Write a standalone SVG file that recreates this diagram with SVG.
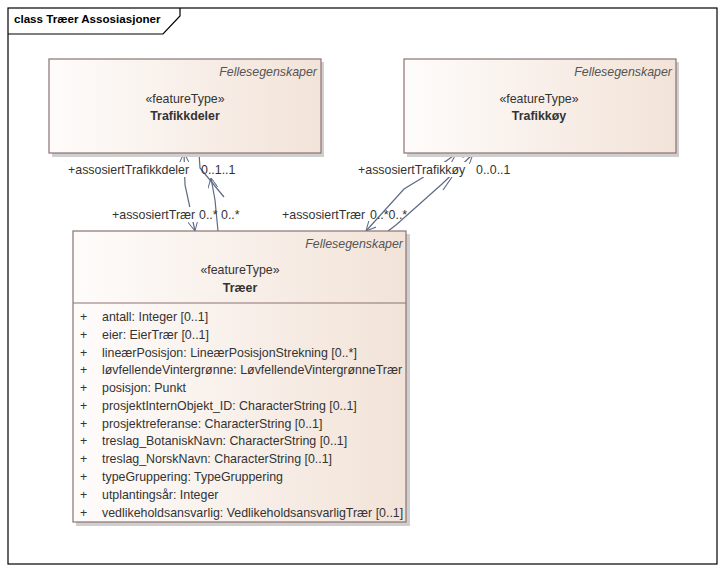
<svg xmlns="http://www.w3.org/2000/svg" width="726" height="572" viewBox="0 0 726 572">
<defs>
<linearGradient id="g" x1="0" y1="0" x2="1" y2="0">
<stop offset="0" stop-color="#fefcfb"/>
<stop offset="1" stop-color="#f2e3d8"/>
</linearGradient>
<marker id="arr" viewBox="0 0 10 10" refX="10" refY="5" markerWidth="10" markerHeight="10" markerUnits="userSpaceOnUse" orient="auto-start-reverse">
<path d="M0,0 L10,5 L0,10" fill="none" stroke="#5d6a85" stroke-width="1"/>
</marker>
<style>
text{font-family:"Liberation Sans",Arial,sans-serif;font-size:12.4px;fill:#333;}
.t{font-size:11.6px;font-weight:bold;fill:#000;}
.b{font-weight:bold;}
.i{font-style:italic;fill:#555;}
.m{text-anchor:middle;}
.e{text-anchor:end;}
.box{fill:url(#g);stroke:#8c7272;stroke-width:1.2;}
.sh{fill:#cfcfcf;}
.c{fill:none;stroke:#5d6a85;stroke-width:1.2;}
</style>
</defs>
<rect x="0" y="0" width="726" height="572" fill="#fff"/>
<g id="frame">
<rect x="8" y="8" width="709" height="556" fill="none" stroke="#000" stroke-width="1.2"/>
<path d="M8,34 H163 L180,16 V8" fill="none" stroke="#000" stroke-width="1.2"/>
<text x="14" y="23" class="t">class Træer Assosiasjoner</text>
</g>
<g id="connectors">
<polyline class="c" points="184,153 185,185 195,231" marker-start="url(#arr)" marker-end="url(#arr)"/>
<polyline class="c" points="199,153 200,168 224,197"/>
<polyline class="c" points="218,231 215,200 211,178" marker-end="url(#arr)"/>
<polyline class="c" points="366,231 404,189 422,178 456,154" marker-start="url(#arr)" marker-end="url(#arr)"/>
<polyline class="c" points="388,231 396,225 442,184 473,154" marker-end="url(#arr)"/>
<line class="c" x1="443" y1="190" x2="452" y2="177"/>
</g>
<g id="labels">
<rect x="66" y="162" width="126" height="15" fill="#fff"/>
<text x="68" y="174">+assosiertTrafikkdeler</text>
<text x="201" y="174">0..1..1</text>
<rect x="110" y="207" width="88" height="15" fill="#fff"/>
<text x="112" y="219">+assosiertTrær</text>
<text x="199" y="219">0..*</text>
<text x="221" y="219">0..*</text>
<rect x="356" y="162" width="112" height="15" fill="#fff"/>
<text x="358" y="174">+assosiertTrafikkøy</text>
<text x="476" y="174">0..0..1</text>
<rect x="280" y="207" width="88" height="15" fill="#fff"/>
<text x="282" y="219">+assosiertTrær</text>
<text x="370" y="219">0..*0..*</text>
</g>
<g id="Trafikkdeler">
<rect class="sh" x="52" y="62" width="272" height="95"/>
<rect class="box" x="49" y="59" width="272" height="94"/>
<text x="317" y="76" class="i e">Fellesegenskaper</text>
<text x="185" y="103" class="m">«featureType»</text>
<text x="185" y="120" class="m b">Trafikkdeler</text>
</g>
<g id="Trafikkoy">
<rect class="sh" x="407" y="62" width="272" height="95"/>
<rect class="box" x="404" y="59" width="272" height="94"/>
<text x="672" y="76" class="i e">Fellesegenskaper</text>
<text x="539" y="103" class="m">«featureType»</text>
<text x="539" y="120" class="m b">Trafikkøy</text>
</g>
<g id="Traer">
<rect class="sh" x="76" y="234" width="334" height="292"/>
<rect class="box" x="73" y="231" width="333" height="291"/>
<line x1="73" y1="303" x2="406" y2="303" stroke="#8c7272" stroke-width="1.2"/>
<text x="403" y="248" class="i e">Fellesegenskaper</text>
<text x="240" y="274" class="m">«featureType»</text>
<text x="240" y="292" class="m b">Træer</text>
<g>
<text x="80" y="321">+</text><text x="102" y="321">antall: Integer [0..1]</text>
<text x="80" y="339">+</text><text x="102" y="339">eier: EierTrær [0..1]</text>
<text x="80" y="357">+</text><text x="102" y="357">lineærPosisjon: LineærPosisjonStrekning [0..*]</text>
<text x="80" y="374">+</text><text x="102" y="374">løvfellendeVintergrønne: LøvfellendeVintergrønneTrær</text>
<text x="80" y="392">+</text><text x="102" y="392">posisjon: Punkt</text>
<text x="80" y="410">+</text><text x="102" y="410">prosjektInternObjekt_ID: CharacterString [0..1]</text>
<text x="80" y="428">+</text><text x="102" y="428">prosjektreferanse: CharacterString [0..1]</text>
<text x="80" y="445">+</text><text x="102" y="445">treslag_BotaniskNavn: CharacterString [0..1]</text>
<text x="80" y="463">+</text><text x="102" y="463">treslag_NorskNavn: CharacterString [0..1]</text>
<text x="80" y="481">+</text><text x="102" y="481">typeGruppering: TypeGruppering</text>
<text x="80" y="499">+</text><text x="102" y="499">utplantingsår: Integer</text>
<text x="80" y="517">+</text><text x="102" y="517">vedlikeholdsansvarlig: VedlikeholdsansvarligTrær [0..1]</text>
</g>
</g>
</svg>
